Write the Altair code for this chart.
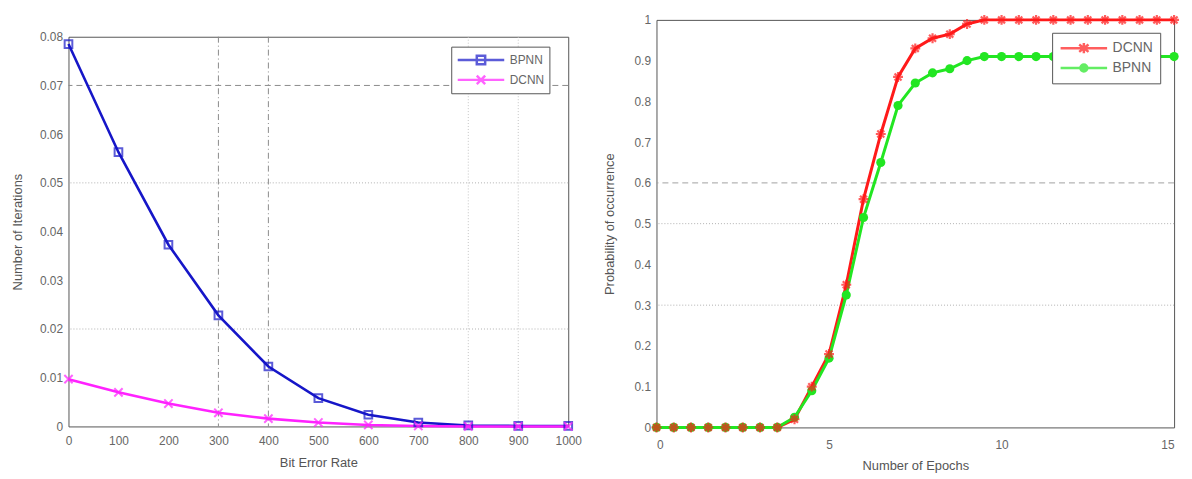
import altair as alt
import pandas as pd

# ---------------- data ----------------
ber = [0, 100, 200, 300, 400, 500, 600, 700, 800, 900, 1000]
bpnn_iter = [0.0785, 0.0563, 0.0373, 0.0228, 0.0123, 0.0058, 0.0024, 0.0008, 0.0002, 0.0001, 0.0001]
dcnn_iter = [0.0097, 0.0070, 0.0047, 0.0028, 0.0016, 0.0008, 0.0003, 0.0001, 0.0000, 0.0000, 0.0000]

epochs = [0, 0.5, 1, 1.5, 2, 2.5, 3, 3.5, 4, 4.5, 5, 5.5, 6, 6.5, 7, 7.5, 8, 8.5, 9, 9.5,
          10, 10.5, 11, 11.5, 12, 12.5, 13, 13.5, 14, 14.5, 15]
dcnn_prob = [0, 0, 0, 0, 0, 0, 0, 0, 0.02, 0.10, 0.18, 0.35, 0.56, 0.72, 0.86, 0.93, 0.955, 0.965,
             0.99, 1.0, 1.0, 1.0, 1.0, 1.0, 1.0, 1.0, 1.0, 1.0, 1.0, 1.0, 1.0]
bpnn_prob = [0, 0, 0, 0, 0, 0, 0, 0, 0.025, 0.09, 0.17, 0.325, 0.515, 0.65, 0.79, 0.845, 0.87, 0.88,
             0.90, 0.91, 0.91, 0.91, 0.91, 0.91, 0.91, 0.91, 0.91, 0.91, 0.91, 0.91, 0.91]

left_series = ["BPNN", "DCNN"]
left_colors = ["#1616c8", "#ff22ff"]
right_series = ["DCNN", "BPNN"]
right_colors = ["#ff1a1a", "#22e622"]

left_x_ticks = [0, 100, 200, 300, 400, 500, 600, 700, 800, 900, 1000]
left_y_ticks = [0, 0.01, 0.02, 0.03, 0.04, 0.05, 0.06, 0.07, 0.08]
right_x_ticks = [0, 5, 10, 15]
right_y_ticks = [0, 0.1, 0.2, 0.3, 0.4, 0.5, 0.6, 0.7, 0.8, 0.9, 1]

# visible grid lines in the reference
left_grid_x_dashdot = [300, 400]
left_grid_x_dotted = [800, 900]
left_grid_y_dashed = [0.07]
left_grid_y_dotted = [0.05, 0.02]
right_grid_y_dashed = [0.6]
right_grid_y_dotted = [0.5, 0.3]

FONT = "Liberation Sans"

# marker paths
X_PATH = "M-1,-1L1,1M-1,1L1,-1"
AST_PATH = "M-1,0H1M0,-1V1M-0.7,-0.7L0.7,0.7M-0.7,0.7L0.7,-0.7"
# legend symbols: line with marker in the middle
LEG_SQUARE = "M-1,0H1M-0.18,-0.18H0.18V0.18H-0.18Z"
LEG_X = "M-1,0H1M-0.18,-0.18L0.18,0.18M-0.18,0.18L0.18,-0.18"
LEG_AST = "M-1,0H1M0,-0.22V0.22M-0.2,-0.16L0.2,0.16M-0.2,0.16L0.2,-0.16"
LEG_CIRC = "M-1,0H1M-0.15,0A0.15,0.15 0 1,0 0.15,0A0.15,0.15 0 1,0 -0.15,0Z"

left_df = pd.DataFrame({
    "ber": ber * 2,
    "val": bpnn_iter + dcnn_iter,
    "series": ["BPNN"] * len(ber) + ["DCNN"] * len(ber),
})
right_df = pd.DataFrame({
    "ep": epochs * 2,
    "val": dcnn_prob + bpnn_prob,
    "series": ["DCNN"] * len(epochs) + ["BPNN"] * len(epochs),
})


def axis_x(title, values, fmt, lp, tp, flush=False):
    return alt.Axis(title=title, values=values, format=fmt, grid=False, ticks=False, domain=False,
                    labelPadding=lp, titlePadding=tp, labelFont=FONT, titleFont=FONT,
                    labelFontSize=12, titleFontSize=13, labelColor="#666", titleColor="#555",
                    titleFontWeight="normal", labelFlush=flush)


def axis_y(title, values, fmt, tp):
    return alt.Axis(title=title, values=values, format=fmt, grid=False, ticks=False, domain=False,
                    labelPadding=6, titlePadding=tp, labelFont=FONT, titleFont=FONT,
                    labelFontSize=12, titleFontSize=13, labelColor="#666", titleColor="#555",
                    titleFontWeight="normal", labelFlush=False)


def rules_x(vals, dash, color):
    return alt.Chart(pd.DataFrame({"v": vals})).mark_rule(
        strokeDash=dash, color=color, strokeWidth=1).encode(x="v:Q")


def rules_y(vals, dash, color):
    return alt.Chart(pd.DataFrame({"v": vals})).mark_rule(
        strokeDash=dash, color=color, strokeWidth=1).encode(y="v:Q")


def legend_box(x, y, fs, pad):
    return alt.Legend(title=None, orient="none", legendX=x, legendY=y, direction="vertical",
                      strokeColor="#555", fillColor="white", padding=pad, symbolSize=2200,
                      symbolStrokeWidth=2.5, clipHeight=17, labelFont=FONT, labelFontSize=fs,
                      labelColor="#666", labelOffset=4, rowPadding=3)


# ---------------- left chart ----------------
LLEG = legend_box(386, 27, 12, 5)
lx = alt.X("ber:Q", scale=alt.Scale(domain=[0, 1000], nice=False, zero=False),
           axis=axis_x("Bit Error Rate", left_x_ticks, "d", 9, 10))
ly = alt.Y("val:Q", scale=alt.Scale(domain=[0, 0.08], nice=False),
           axis=axis_y("Number of Iterations", left_y_ticks, ".2~f", 15))
lcol = alt.Scale(domain=left_series, range=left_colors)
lshape = alt.Scale(domain=left_series, range=[LEG_SQUARE, LEG_X])

left_leg = alt.Chart(left_df).transform_filter("false").mark_point(filled=False).encode(
    x=lx, y=ly,
    color=alt.Color("series:N", scale=lcol, legend=LLEG),
    shape=alt.Shape("series:N", scale=lshape, legend=LLEG))
left_lines = alt.Chart(left_df).mark_line(strokeWidth=2.6).encode(
    x="ber:Q", y="val:Q", color=alt.Color("series:N", scale=lcol, legend=LLEG), detail="series:N")
left_pts_b = alt.Chart(left_df).transform_filter("datum.series === 'BPNN'").mark_point(
    shape="square", filled=False, size=60, strokeWidth=2).encode(
    x="ber:Q", y="val:Q", color=alt.Color("series:N", scale=lcol, legend=LLEG))
left_pts_d = alt.Chart(left_df).transform_filter("datum.series === 'DCNN'").mark_point(
    shape=X_PATH, filled=False, size=70, strokeWidth=2).encode(
    x="ber:Q", y="val:Q", color=alt.Color("series:N", scale=lcol, legend=LLEG))

left = alt.layer(
    left_leg,
    rules_x(left_grid_x_dashdot, [6, 3, 1, 3], "#8a8a8a"),
    rules_x(left_grid_x_dotted, [1, 2], "#c4c4c4"),
    rules_y(left_grid_y_dashed, [6, 4], "#8a8a8a"),
    rules_y(left_grid_y_dotted, [1, 2], "#b0b0b0"),
    left_lines, left_pts_b, left_pts_d,
).properties(width=504, height=393)

spacer = alt.Chart(pd.DataFrame({"v": [0]})).mark_point(opacity=0, size=0).encode(
    x=alt.X("v:Q", axis=None), y=alt.Y("v:Q", axis=None)
).properties(width=504, height=1, view=alt.ViewConfig(stroke="transparent"))

left_col = alt.vconcat(spacer, left, spacing=8)

# ---------------- right chart ----------------
RLEG = legend_box(399, 13, 14, 7)
rx = alt.X("ep:Q", scale=alt.Scale(domain=[0, 15], nice=False, zero=False),
           axis=axis_x("Number of Epochs", right_x_ticks, "d", 12, 9, True))
ry = alt.Y("val:Q", scale=alt.Scale(domain=[0, 1], nice=False),
           axis=axis_y("Probability of occurrence", right_y_ticks, "~g", 18))
rcol = alt.Scale(domain=right_series, range=right_colors)
rshape = alt.Scale(domain=right_series, range=[LEG_AST, LEG_CIRC])

right_leg = alt.Chart(right_df).transform_filter("false").mark_point(filled=False).encode(
    x=rx, y=ry,
    color=alt.Color("series:N", scale=rcol, legend=RLEG),
    shape=alt.Shape("series:N", scale=rshape, legend=RLEG))
right_lines = alt.Chart(right_df).mark_line(strokeWidth=3).encode(
    x="ep:Q", y="val:Q", color=alt.Color("series:N", scale=rcol, legend=RLEG), detail="series:N")
right_pts_d = alt.Chart(right_df).transform_filter("datum.series === 'DCNN'").mark_point(
    shape=AST_PATH, filled=False, size=100, strokeWidth=2.2).encode(
    x="ep:Q", y="val:Q", color=alt.Color("series:N", scale=rcol, legend=RLEG))
right_pts_b = alt.Chart(right_df).transform_filter("datum.series === 'BPNN'").mark_point(
    shape="circle", filled=True, size=85, opacity=1).encode(
    x="ep:Q", y="val:Q", color=alt.Color("series:N", scale=rcol, legend=RLEG))

right = alt.layer(
    right_leg,
    rules_y(right_grid_y_dashed, [6, 4], "#a0a0a0"),
    rules_y(right_grid_y_dotted, [1, 2], "#b0b0b0"),
    right_lines, right_pts_b, right_pts_d,
).properties(width=522, height=411)

chart = alt.hconcat(left_col, right, spacing=20).resolve_scale(
    color="independent", shape="independent", x="independent", y="independent"
).properties(
    padding={"left": 3, "top": 0, "right": 0, "bottom": 0}
).configure_view(stroke="#555", strokeWidth=1)

chart.save("out.html", embed_options={"renderer": "svg", "actions": False})
